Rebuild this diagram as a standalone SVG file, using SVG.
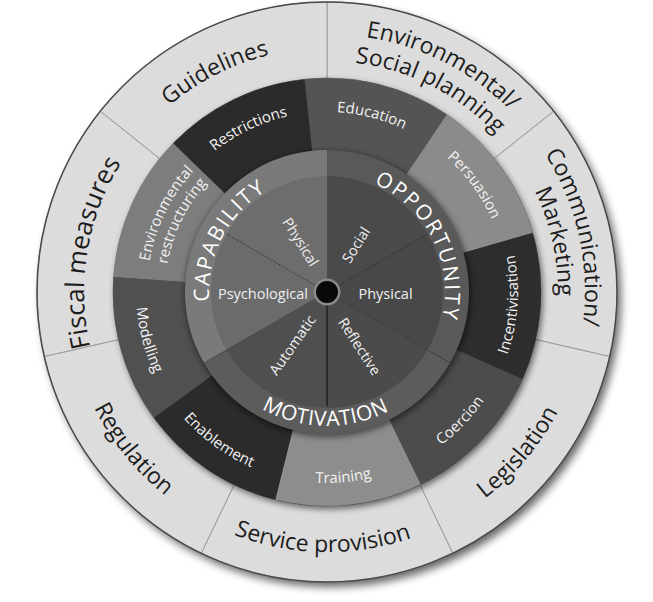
<svg xmlns="http://www.w3.org/2000/svg" width="653" height="602" viewBox="0 0 653 602">
<style>
.t{font-family:"Open Sans","Noto Sans","DejaVu Sans",sans-serif}
.outer{font-size:23px;fill:#1c1c1c}
.iv{font-size:15px;fill:#f2f2f2}
.com{font-size:21px;fill:#ffffff;letter-spacing:2px}
.sub{font-size:14.5px;fill:#f0f0f0}
.seg{fill:#dcdcdc;stroke:#9c9c9c;stroke-width:1}
</style>
<defs>
<filter id="blur" x="-20%" y="-20%" width="140%" height="140%"><feGaussianBlur stdDeviation="4"/></filter>
<filter id="blur2" x="-20%" y="-20%" width="140%" height="140%"><feGaussianBlur stdDeviation="3"/></filter>
<path id="cw243" d="M-210.4,-121.5 A243,243 0 0 1 210.4,-121.5"/>
<path id="cw244" d="M-211.3,-122 A244,244 0 0 1 211.3,-122"/>
<path id="cw258" d="M-223.4,-129 A258,258 0 0 1 223.4,-129"/>
<path id="cw231" d="M-200,-115.5 A231,231 0 0 1 200,-115.5"/>
<path id="cw180" d="M-155.9,-90 A180,180 0 0 1 155.9,-90"/>
<path id="cw162" d="M-140.3,-81 A162,162 0 0 1 140.3,-81"/>
<path id="cw118" d="M-102.2,-59 A118,118 0 0 1 102.2,-59"/>
<path id="ccw260" d="M-225.2,130 A260,260 0 0 0 225.2,130"/>
<path id="ccw191" d="M-165.4,95.5 A191,191 0 0 0 165.4,95.5"/>
<path id="ccw134" d="M-116,67 A134,134 0 0 0 116,67"/>
</defs>
<rect width="653" height="602" fill="#ffffff"/>
<!-- outer shadow -->
<circle cx="331" cy="297" r="290" fill="#000" opacity="0.6" filter="url(#blur)"/>
<g id="policy-ring">
<g id="environmental-social-planning">
<path class="seg" d="M327,2 A290,290 0 0 1 553.7,111.2 L494.3,158.6 A214,214 0 0 0 327,78 Z"/>
<g transform="translate(327,292) rotate(27)"><text class="t outer"><textPath href="#cw258" startOffset="50%" text-anchor="middle">Environmental/</textPath></text><text class="t outer"><textPath href="#cw231" startOffset="50%" text-anchor="middle">Social planning</textPath></text></g>
</g>
<g id="communication-marketing">
<path class="seg" d="M553.7,111.2 A290,290 0 0 1 609.7,356.5 L535.6,339.6 A214,214 0 0 0 494.3,158.6 Z"/>
<g transform="translate(327,292) rotate(77.5)"><text class="t outer"><textPath href="#cw258" startOffset="50%" text-anchor="middle">Communication/</textPath></text><text class="t outer"><textPath href="#cw231" startOffset="50%" text-anchor="middle">Marketing</textPath></text></g>
</g>
<g id="legislation">
<path class="seg" d="M609.7,356.5 A290,290 0 0 1 452.8,553.3 L419.9,484.8 A214,214 0 0 0 535.6,339.6 Z"/>
<g transform="translate(327,292) rotate(-50)"><text class="t outer"><textPath href="#ccw260" startOffset="50%" text-anchor="middle">Legislation</textPath></text></g>
</g>
<g id="service-provision">
<path class="seg" d="M452.8,553.3 A290,290 0 0 1 201.2,553.3 L234.1,484.8 A214,214 0 0 0 419.9,484.8 Z"/>
<g transform="translate(327,292) rotate(1)"><text class="t outer"><textPath href="#ccw260" startOffset="50%" text-anchor="middle">Service provision</textPath></text></g>
</g>
<g id="regulation">
<path class="seg" d="M201.2,553.3 A290,290 0 0 1 44.3,356.5 L118.4,339.6 A214,214 0 0 0 234.1,484.8 Z"/>
<g transform="translate(327,292) rotate(51)"><text class="t outer"><textPath href="#ccw260" startOffset="50%" text-anchor="middle">Regulation</textPath></text></g>
</g>
<g id="fiscal-measures">
<path class="seg" d="M44.3,356.5 A290,290 0 0 1 100.3,111.2 L159.7,158.6 A214,214 0 0 0 118.4,339.6 Z"/>
<g transform="translate(327,292) rotate(-80.5)"><text class="t outer" style="font-size:26px"><textPath href="#cw243" startOffset="50%" text-anchor="middle">Fiscal measures</textPath></text></g>
</g>
<g id="guidelines">
<path class="seg" d="M100.3,111.2 A290,290 0 0 1 327,2 L327,78 A214,214 0 0 0 159.7,158.6 Z"/>
<g transform="translate(327,292) rotate(-27)"><text class="t outer"><textPath href="#cw244" startOffset="50%" text-anchor="middle">Guidelines</textPath></text></g>
</g>
<circle cx="327" cy="292" r="290" fill="none" stroke="#4a4a4a" stroke-width="1.5"/>
</g>
<!-- intervention ring shadow -->
<circle cx="329" cy="295" r="214" fill="#000" opacity="0.55" filter="url(#blur2)"/>
<g id="intervention-ring">
<g id="restrictions"><path fill="#2b2b2b" d="M327,292 L173.1,143.3 A214,214 0 0 1 304.6,79.2 Z"/>
<g transform="translate(327,292) rotate(-25.6)"><text class="t iv"><textPath href="#cw180" startOffset="50%" text-anchor="middle">Restrictions</textPath></text></g></g>
<g id="education"><path fill="#545454" d="M327,292 L304.6,79.2 A214,214 0 0 1 446.7,114.6 Z"/>
<g transform="translate(327,292) rotate(14.2)"><text class="t iv"><textPath href="#cw180" startOffset="50%" text-anchor="middle">Education</textPath></text></g></g>
<g id="persuasion"><path fill="#8b8b8b" d="M327,292 L446.7,114.6 A214,214 0 0 1 532.7,233 Z"/>
<g transform="translate(327,292) rotate(54)"><text class="t iv"><textPath href="#cw180" startOffset="50%" text-anchor="middle">Persuasion</textPath></text></g></g>
<g id="incentivisation"><path fill="#2d2d2d" d="M327,292 L532.7,233 A214,214 0 0 1 522.5,379 Z"/>
<g transform="translate(327,292) rotate(-86)"><text class="t iv"><textPath href="#ccw191" startOffset="50%" text-anchor="middle">Incentivisation</textPath></text></g></g>
<g id="coercion"><path fill="#4c4c4c" d="M327,292 L522.5,379 A214,214 0 0 1 420.8,484.3 Z"/>
<g transform="translate(327,292) rotate(-46)"><text class="t iv"><textPath href="#ccw191" startOffset="50%" text-anchor="middle">Coercion</textPath></text></g></g>
<g id="training"><path fill="#8d8d8d" d="M327,292 L420.8,484.3 A214,214 0 0 1 275.2,499.6 Z"/>
<g transform="translate(327,292) rotate(-5)"><text class="t iv"><textPath href="#ccw191" startOffset="50%" text-anchor="middle">Training</textPath></text></g></g>
<g id="enablement"><path fill="#2b2b2b" d="M327,292 L275.2,499.6 A214,214 0 0 1 153.9,417.8 Z"/>
<g transform="translate(327,292) rotate(36)"><text class="t iv"><textPath href="#ccw191" startOffset="50%" text-anchor="middle">Enablement</textPath></text></g></g>
<g id="modelling"><path fill="#505050" d="M327,292 L153.9,417.8 A214,214 0 0 1 113.5,277.1 Z"/>
<g transform="translate(327,292) rotate(75)"><text class="t iv"><textPath href="#ccw191" startOffset="50%" text-anchor="middle">Modelling</textPath></text></g></g>
<g id="environmental-restructuring"><path fill="#7d7d7d" d="M327,292 L113.5,277.1 A214,214 0 0 1 173.1,143.3 Z"/>
<g transform="translate(327,292) rotate(-64)"><text class="t iv"><textPath href="#cw180" startOffset="50%" text-anchor="middle">Environmental</textPath></text><text class="t iv"><textPath href="#cw162" startOffset="50%" text-anchor="middle">restructuring</textPath></text></g></g>
</g>
<!-- COM shadow -->
<circle cx="328" cy="294" r="143" fill="#000" opacity="0.5" filter="url(#blur2)"/>
<g id="capability">
<path fill="#7a7a7a" d="M327,292 L204,363 A142,142 0 0 1 327,150 Z"/>
<g id="capability-psychological"><path fill="#6b6b6b" d="M327,292 L226.5,350 A116,116 0 0 1 226.5,234 Z"/>
<text class="t sub" x="263" y="299" text-anchor="middle">Psychological</text></g>
<g id="capability-physical"><path fill="#6d6d6d" d="M327,292 L226.5,234 A116,116 0 0 1 327,176 Z"/>
<text class="t sub" transform="translate(300.5,242) rotate(58)" text-anchor="middle" dy=".35em">Physical</text></g>
<g transform="translate(327,292) rotate(-62.5)"><text class="t com"><textPath href="#cw118" startOffset="50%" text-anchor="middle">CAPABILITY</textPath></text></g>
</g>
<g id="opportunity">
<path fill="#595959" d="M327,292 L327,150 A142,142 0 0 1 450,363 Z"/>
<g id="opportunity-social"><path fill="#4a4a4a" d="M327,292 L327,176 A116,116 0 0 1 427.5,234 Z"/>
<text class="t sub" transform="translate(356,245) rotate(-58)" text-anchor="middle" dy=".35em">Social</text></g>
<g id="opportunity-physical"><path fill="#484848" d="M327,292 L427.5,234 A116,116 0 0 1 427.5,350 Z"/>
<text class="t sub" x="385.5" y="299" text-anchor="middle">Physical</text></g>
<g transform="translate(327,292) rotate(63.4)"><text class="t com"><textPath href="#cw118" startOffset="50%" text-anchor="middle">OPPORTUNITY</textPath></text></g>
</g>
<g id="motivation">
<path fill="#5c5c5c" d="M327,292 L450,363 A142,142 0 0 1 204,363 Z"/>
<g id="motivation-reflective"><path fill="#4b4b4b" d="M327,292 L427.5,350 A116,116 0 0 1 327,408 Z"/>
<text class="t sub" transform="translate(359.5,346.5) rotate(57)" text-anchor="middle" dy=".35em">Reflective</text></g>
<g id="motivation-automatic"><path fill="#4f4f4f" d="M327,292 L327,408 A116,116 0 0 1 226.5,350 Z"/>
<text class="t sub" transform="translate(292.5,345) rotate(-55)" text-anchor="middle" dy=".35em">Automatic</text></g>
<g transform="translate(327,292) rotate(0.7)"><text class="t com" style="letter-spacing:0.5px"><textPath href="#ccw134" startOffset="50%" text-anchor="middle">MOTIVATION</textPath></text></g>
</g>
<g id="connectors">
<line x1="327" y1="292" x2="226.5" y2="234" stroke="#2e2e2e" stroke-width="1" stroke-dasharray="1.5 1.5"/>
<line x1="327" y1="292" x2="427.5" y2="234" stroke="#2a2a2a" stroke-width="1" stroke-dasharray="1.5 1.5"/>
<line x1="327" y1="292" x2="327" y2="406" stroke="#1e1e1e" stroke-width="1.5"/>
<line x1="327" y1="292" x2="450" y2="363" stroke="#3c3c3c" stroke-width="0.8"/>
<line x1="327" y1="292" x2="204" y2="363" stroke="#4a4a4a" stroke-width="0.8"/>
</g>
<g id="hub">
<circle cx="327" cy="292" r="13.5" fill="#8a8a8a"/>
<circle cx="327" cy="292" r="11" fill="#0a0a0a"/>
</g>
</svg>
